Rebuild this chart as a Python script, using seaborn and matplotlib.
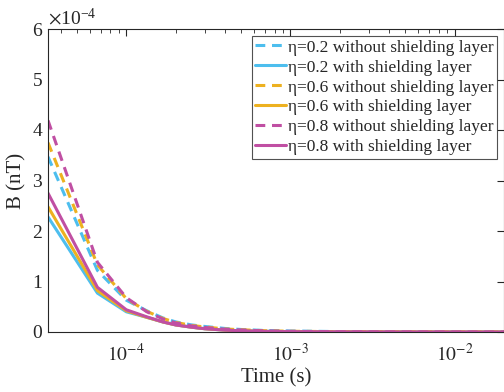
import numpy as np
import pandas as pd
import matplotlib
matplotlib.use("Agg")
import matplotlib.pyplot as plt
import seaborn as sns
from matplotlib.ticker import ScalarFormatter, LogLocator, NullFormatter, FixedLocator

# time points (s)
t = [3.333e-5, 6.667e-5, 1e-4, 1.333e-4, 1.667e-4, 2e-4, 2.5e-4, 3e-4, 4e-4,
     5e-4, 7e-4, 1e-3, 2e-3, 5e-3, 1e-2, 2e-2]

# B values in units of 1e-4 nT
b02_wo = [3.47, 1.22, 0.63, 0.42, 0.28, 0.20, 0.14, 0.11, 0.07, 0.05, 0.03, 0.02, 0.008, 0.003, 0.001, 0.0]
b02_w  = [2.28, 0.77, 0.40, 0.29, 0.20, 0.14, 0.095, 0.065, 0.037, 0.025, 0.013, 0.008, 0.003, 0.001, 0.0005, 0.0]
b06_wo = [3.75, 1.33, 0.66, 0.41, 0.27, 0.19, 0.13, 0.10, 0.06, 0.045, 0.025, 0.015, 0.006, 0.002, 0.001, 0.0]
b06_w  = [2.48, 0.82, 0.42, 0.29, 0.20, 0.14, 0.095, 0.065, 0.037, 0.024, 0.012, 0.007, 0.003, 0.001, 0.0005, 0.0]
b08_wo = [4.19, 1.38, 0.68, 0.40, 0.26, 0.18, 0.12, 0.09, 0.055, 0.04, 0.022, 0.013, 0.005, 0.002, 0.001, 0.0]
b08_w  = [2.75, 0.885, 0.44, 0.30, 0.20, 0.14, 0.095, 0.065, 0.037, 0.024, 0.012, 0.007, 0.003, 0.001, 0.0005, 0.0]

labels = ["η=0.2 without shielding layer", "η=0.2 with shielding layer",
          "η=0.6 without shielding layer", "η=0.6 with shielding layer",
          "η=0.8 without shielding layer", "η=0.8 with shielding layer"]
series = [b02_wo, b02_w, b06_wo, b06_w, b08_wo, b08_w]
colors = ["#4DBEEE", "#4DBEEE", "#EDB120", "#EDB120", "#C04FA3", "#C04FA3"]
dashed = [True, False, True, False, True, False]

sns.set_style("white")
plt.rcParams['font.family'] = ['Liberation Serif', 'DejaVu Serif']
plt.rcParams['mathtext.fontset'] = 'stix'

fig = plt.figure(figsize=(5.04, 3.92), dpi=100)
ax = fig.add_axes([48/504, 1-332/392, (504-48)/504, (332-29)/392])

for vals, lab, col, d in zip(series, labels, colors, dashed):
    y = np.array(vals) * 1e-4
    sns.lineplot(x=t, y=y, ax=ax, color=col, lw=2.2, label=lab)
    line = ax.get_lines()[-1]
    if d:
        line.set_dashes((3.2, 2.2))

ax.set_xscale('log')
ax.set_xlim(t[0], t[-1])
ax.set_ylim(0, 6e-4)
ax.set_yticks(np.arange(0, 7) * 1e-4)
fmt = ScalarFormatter(useMathText=True)
fmt.set_powerlimits((0, 0))
ax.yaxis.set_major_formatter(fmt)
ax.yaxis.get_offset_text().set_fontsize(14)
ax.yaxis.get_offset_text().set_color('#262626')

ax.xaxis.set_major_locator(FixedLocator([1e-4, 1e-3, 1e-2]))
ax.set_xticklabels([r"$10^{-4}$", r"$10^{-3}$", r"$10^{-2}$"])
ax.xaxis.set_minor_locator(LogLocator(base=10, subs=np.arange(2, 10), numticks=20))
ax.xaxis.set_minor_formatter(NullFormatter())

ax.tick_params(axis='both', which='both', direction='in', top=True, right=True,
               labelsize=14, color='#262626', labelcolor='#262626')
ax.tick_params(axis='both', which='major', length=5, width=0.8)
ax.tick_params(axis='both', which='minor', length=3, width=0.6)
ax.tick_params(axis='x', which='major', pad=8)
for s in ax.spines.values():
    s.set_color('#262626')
    s.set_linewidth(0.8)

ax.set_xlabel("Time (s)", fontsize=15, color='#262626', labelpad=2)
ax.set_ylabel("B (nT)", fontsize=15, color='#262626', labelpad=4)

leg = ax.legend(loc='upper right', fontsize=12.5, frameon=True, fancybox=False,
                edgecolor='#262626', handlelength=1.8, handletextpad=0.1,
                labelspacing=0.22, borderpad=0.2, borderaxespad=0.4)
leg.get_frame().set_linewidth(0.8)

fig.savefig("out.png", dpi=100)
